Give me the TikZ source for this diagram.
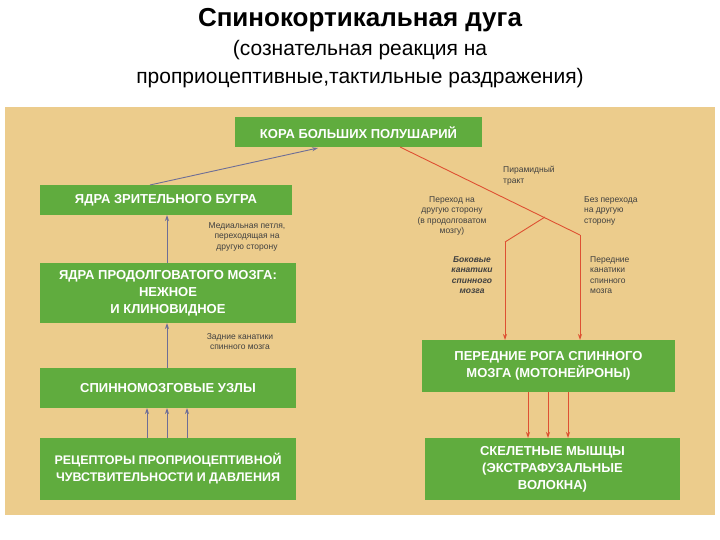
\documentclass[tikz,border=0pt]{standalone}
\usepackage{fontspec}
\setmainfont{Liberation Sans}
\usetikzlibrary{arrows.meta}
\definecolor{bg}{RGB}{236,204,140}
\definecolor{gr}{RGB}{96,172,62}
\definecolor{rd}{RGB}{222,80,50}
\definecolor{bl}{RGB}{110,110,150}
\begin{document}
\begin{tikzpicture}[x=1pt,y=-1pt,
  box/.style={fill=gr,text=white,font=\bfseries\fontsize{13}{17}\selectfont,align=center,inner sep=0},
  lab/.style={font=\fontsize{8.5}{10.5}\selectfont,text=black!75,align=left,inner sep=0},
  up/.style={draw=bl,line width=0.9pt,-{Stealth[length=6pt,width=4pt]}},
  rarr/.style={draw=rd,line width=0.9pt,-{Stealth[length=6pt,width=4pt]}}]
\useasboundingbox (0,0) rectangle (720,540);
\fill[white] (0,0) rectangle (720,540);
\fill[bg] (5,107) rectangle (715,515);
\node[font=\bfseries\fontsize{26}{30}\selectfont] (t) at (360,20) {Спинокортикальная дуга};
\node[font=\fontsize{21}{28}\selectfont,align=center] (s) at (360,64) {(сознательная реакция на\\проприоцептивные,тактильные раздражения)};
\node[box,minimum width=247,minimum height=30] (k) at (358.5,132.5) {КОРА БОЛЬШИХ ПОЛУШАРИЙ};
\node[box,minimum width=252,minimum height=30] (th) at (166,200) {ЯДРА ЗРИТЕЛЬНОГО БУГРА};
\node[box,minimum width=256,minimum height=60] (m) at (168,293) {ЯДРА ПРОДОЛГОВАТОГО МОЗГА:\\НЕЖНОЕ\\И КЛИНОВИДНОЕ};
\node[box,minimum width=256,minimum height=40] (g) at (168,388) {СПИННОМОЗГОВЫЕ УЗЛЫ};
\node[box,minimum width=256,minimum height=62,font=\bfseries\fontsize{12.5}{17}\selectfont] (r) at (168,469) {РЕЦЕПТОРЫ ПРОПРИОЦЕПТИВНОЙ\\ЧУВСТВИТЕЛЬНОСТИ И ДАВЛЕНИЯ};
\node[box,minimum width=253,minimum height=52] (mo) at (548.5,366) {ПЕРЕДНИЕ РОГА СПИННОГО\\МОЗГА (МОТОНЕЙРОНЫ)};
\node[box,minimum width=255,minimum height=62] (mu) at (552.5,469) {СКЕЛЕТНЫЕ МЫШЦЫ\\(ЭКСТРАФУЗАЛЬНЫЕ\\ВОЛОКНА)};
% left arrows
\draw[up] (150,185) -- (318,148);
\draw[up] (167,263) -- (167,215);
\draw[up] (167,368) -- (167,323);
\foreach \dx in {-20,0,20} \draw[up] (167+\dx,438) -- (167+\dx,408);
% right arrows
\coordinate (c1) at (580,235);
\coordinate (c2) at (545,217);
\coordinate (c3) at (505,242);
\draw[draw=rd,line width=0.9pt] (400,147) -- (c1);
\draw[rarr] (c1) -- (580,340);
\draw[draw=rd,line width=0.9pt] (c2) -- (c3);
\draw[rarr] (c3) -- (505,340);
\foreach \x in {528,548,568} \draw[rarr] (\x,392) -- (\x,438);
% labels
\node[lab,anchor=north west] (l1) at (503,166) {Пирамидный\\тракт};
\node[lab,align=center,anchor=north] (l2) at (452,196) {Переход на\\другую сторону\\(в продолговатом\\мозгу)};
\node[lab,anchor=north west] (l3) at (584,196) {Без перехода\\на другую\\сторону};
\node[lab,align=center,anchor=north,font=\bfseries\itshape\fontsize{8.5}{10.5}\selectfont] (l4) at (472,256) {Боковые\\канатики\\спинного\\мозга};
\node[lab,anchor=north west] (l5) at (590,256) {Передние\\канатики\\спинного\\мозга};
\node[lab,align=center,anchor=north] (l6) at (247,222) {Медиальная петля,\\переходящая на\\другую сторону};
\node[lab,align=center,anchor=north] (l7) at (240,333) {Задние канатики\\спинного мозга};
\end{tikzpicture}
\end{document}
